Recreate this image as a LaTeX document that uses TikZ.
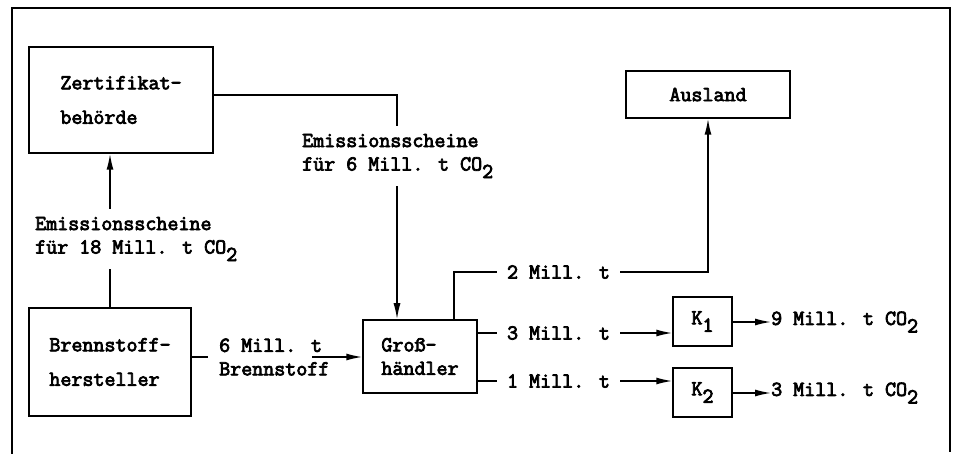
\documentclass[tikz,border=0pt]{standalone}
\usepackage{fontspec}
\newfontfamily\twfont[FakeBold=3.5]{Latin Modern Mono}
\usetikzlibrary{arrows.meta,calc}
\newcommand\lowr[1]{\raisebox{-0.35em}{#1}}
\tikzset{
  every node/.style={font=\fontsize{21.4}{23.5}\selectfont\twfont, inner sep=0pt},
  box/.style={draw, line width=1.5pt, align=left},
  lbl/.style={align=left, inner xsep=10pt, inner ysep=8pt},
  conn/.style={line width=1.5pt},
  arr/.style={line width=1.5pt, -{Latex[length=16pt,width=7pt]}}
}
\begin{document}
\begin{tikzpicture}[x=1pt,y=-1pt]
\useasboundingbox (0,0) rectangle (953,454);
% outer frame
\draw[line width=1.6pt] (12,454) -- (12,8) -- (950,8) -- (950,452);
% boxes
\node[box, minimum width=184pt, minimum height=106pt] (zert) at (121,100) {Zertifikat-\\[11pt]behörde};
\node[box, minimum width=162pt, minimum height=108pt] (brenn) at (110,362) {Brennstoff-\\[11pt]hersteller};
\node[box, minimum width=114pt, minimum height=73pt] (gross) at (420,356.5) {Groß-\\händler};
\node[box, minimum width=164pt, minimum height=47pt] (ausl) at (708,94.5) {Ausland};
\node[box, minimum width=59pt, minimum height=49pt] (k1) at (702.5,321.5) {K\lowr{1}};
\node[box, minimum width=59pt, minimum height=49pt] (k2) at (702.5,392.5) {K\lowr{2}};
% labels
\node[lbl, anchor=west] (e18) at (25,239) {Emissionsscheine\\für 18 Mill. t CO\lowr{2}};
\node[lbl, anchor=west] (e6) at (292,156) {Emissionsscheine\\für 6 Mill. t CO\lowr{2}};
\node[lbl, anchor=west, inner xsep=10pt] (m6) at (209,357) {6 Mill. t\\Brennstoff};
\node[lbl, anchor=center] (m2) at (558.5,272) {2 Mill. t};
\node[lbl, anchor=center] (m3) at (558.5,333) {3 Mill. t};
\node[lbl, anchor=center] (m1) at (558.5,381) {1 Mill. t};
\node[lbl, anchor=west, inner xsep=0pt] (o9) at (771,322) {9 Mill. t CO\lowr{2}};
\node[lbl, anchor=west, inner xsep=0pt] (o3) at (771,393) {3 Mill. t CO\lowr{2}};
% helper coordinates
\coordinate (cx) at (397,0);
\coordinate (gx) at (454,0);
\coordinate (m6a) at (208,357);
\coordinate (m6b) at (312,357);
% connectors
\draw[conn] (brenn.north) -- (brenn.north |- e18.south);
\draw[arr] (brenn.north |- e18.north) -- (brenn.north |- zert.south);
\draw[conn] ([yshift=5pt]zert.east) -| (cx |- e6.north);
\draw[arr] (cx |- e6.south) -- (cx |- gross.north);
\draw[conn] (brenn.east |- m6a) -- (m6a);
\draw[arr] (m6b) -- (gross.west |- m6b);
\draw[conn] (gx |- gross.north) |- (m2.west);
\draw[arr] (m2.east) -| (ausl.south);
\draw[conn] (gross.east |- m3.west) -- (m3.west);
\draw[arr] (m3.east) -- (k1.west |- m3.east);
\draw[conn] (gross.east |- m1.west) -- (m1.west);
\draw[arr] (m1.east) -- (k2.west |- m1.east);
\draw[arr] (k1.east |- o9.west) -- (o9.west);
\draw[arr] (k2.east |- o3.west) -- (o3.west);
\end{tikzpicture}
\end{document}
